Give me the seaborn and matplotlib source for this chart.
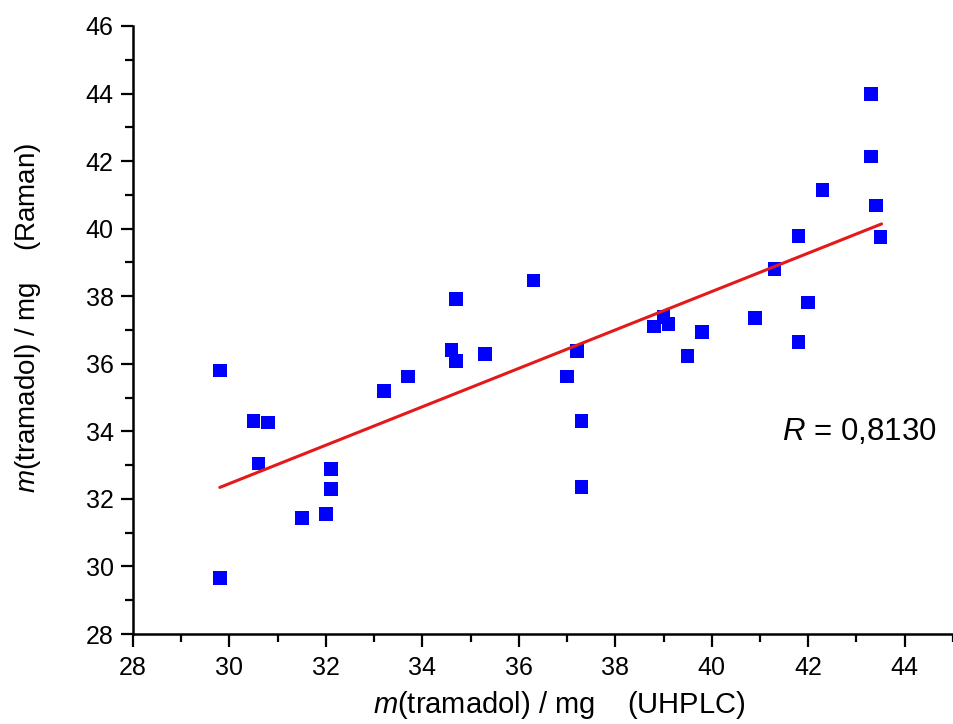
import numpy as np
import pandas as pd
import matplotlib
matplotlib.use('Agg')
import matplotlib.pyplot as plt
from matplotlib.ticker import MultipleLocator
import seaborn as sns

# ---------------------------------------------------------
# data
# ---------------------------------------------------------
uhplc = [29.8, 29.8, 30.5, 30.8, 30.6, 31.5, 32.0, 32.1, 32.1, 33.2,
         33.7, 34.6, 34.7, 34.7, 35.3, 36.3, 37.0, 37.2, 37.3, 37.3,
         38.8, 39.0, 39.1, 39.5, 39.8, 40.9, 41.3, 41.8, 41.8, 42.0,
         42.3, 43.3, 43.3, 43.4, 43.5]
raman = [35.8, 29.66, 34.31, 34.26, 33.05, 31.43, 31.55, 32.30, 32.88, 35.20,
         35.63, 36.41, 36.08, 37.92, 36.29, 38.46, 35.62, 36.38, 34.31, 32.35,
         37.11, 37.39, 37.18, 36.23, 36.94, 37.36, 38.81, 39.78, 36.65, 37.81,
         41.15, 43.99, 42.14, 40.69, 39.76]

# fitted line end points
fit_x = [29.8, 43.52]
fit_y = [32.34, 40.14]

r_text = '$R$ = 0,8130'

df = pd.DataFrame({'UHPLC': uhplc, 'Raman': raman})
fit_df = pd.DataFrame({'x': fit_x, 'y': fit_y})

# ---------------------------------------------------------
# style
# ---------------------------------------------------------
sns.set_theme(style='ticks')
plt.rcParams['font.family'] = ['Liberation Sans', 'DejaVu Sans']
plt.rcParams['mathtext.fontset'] = 'custom'
plt.rcParams['mathtext.rm'] = 'Liberation Sans'
plt.rcParams['mathtext.it'] = 'Liberation Sans:italic'

fig = plt.figure(figsize=(9.54, 7.24), dpi=100)
ax = fig.add_axes([0.1394, 0.1243, 0.8595, 0.8398])

sns.lineplot(data=fit_df, x='x', y='y', color='#e41a1a', linewidth=2.2, ax=ax, zorder=3)
sns.scatterplot(data=df, x='UHPLC', y='Raman', marker='s', s=95, color='#0000ff',
                edgecolor='none', ax=ax, zorder=2)

ax.set_xlim(28, 45)
ax.set_ylim(28, 46)
ax.xaxis.set_major_locator(MultipleLocator(2))
ax.xaxis.set_minor_locator(MultipleLocator(1))
ax.yaxis.set_major_locator(MultipleLocator(2))
ax.yaxis.set_minor_locator(MultipleLocator(1))

for side in ['top', 'right']:
    ax.spines[side].set_visible(False)
for side in ['left', 'bottom']:
    ax.spines[side].set_linewidth(1.8)
    ax.spines[side].set_color('black')

ax.tick_params(which='major', direction='out', length=9, width=1.6, color='black',
               labelsize=18, labelcolor='black', pad=5)
ax.tick_params(axis='x', which='major', pad=6.5)
ax.tick_params(which='minor', direction='out', length=5.5, width=1.6, color='black')

ax.set_xlabel('$m$(tramadol) / mg    (UHPLC)', fontsize=21, color='black')
ax.set_ylabel('$m$(tramadol) / mg    (Raman)', fontsize=20, color='black')
ax.xaxis.set_label_coords(0.52, -0.09)
ax.yaxis.set_label_coords(-0.11, 0.52)

ax.text(41.45, 33.98, r_text, fontsize=22.5, ha='left', va='center', color='black')

ax.grid(False)
fig.savefig('out.png', dpi=100, facecolor='white')
